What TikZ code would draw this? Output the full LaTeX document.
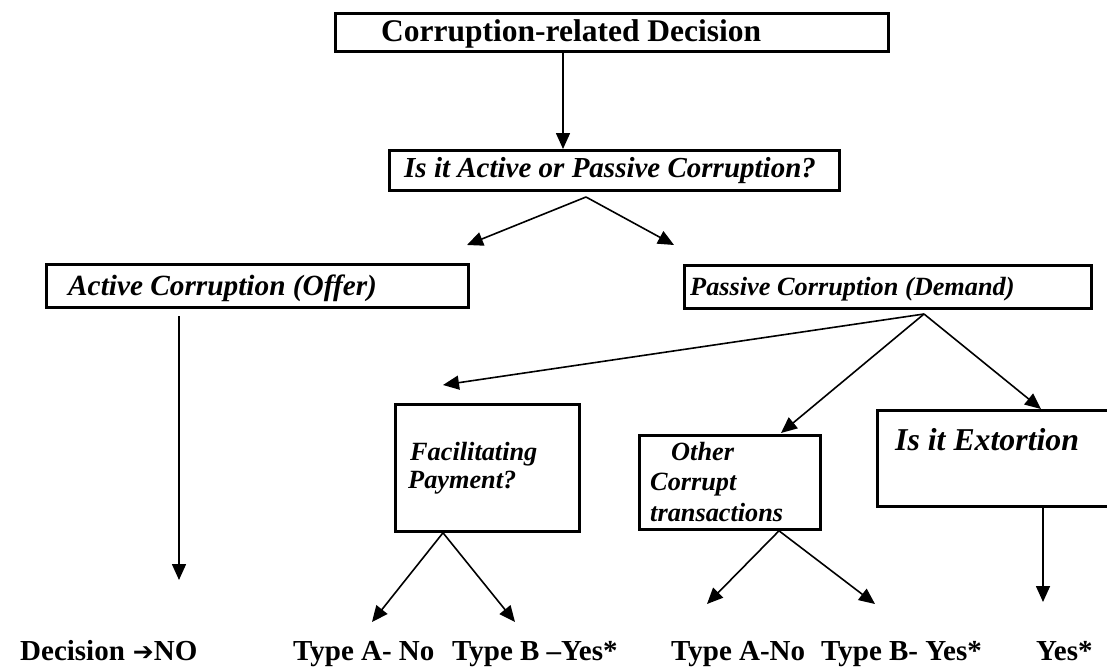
\documentclass[tikz,border=0pt]{standalone}
\usepackage{fontspec}
\setmainfont{Liberation Serif}
\newfontfamily\symfont{DejaVu Sans}
\usetikzlibrary{arrows.meta}
\newcommand\setsz[1]{\fontsize{#1}{#1}\selectfont}

\begin{document}
\begin{tikzpicture}[x=1pt,y=-1pt,
  box/.style={draw, line width=2.8pt, rectangle, inner sep=0pt, anchor=north west},
  lbl/.style={inner sep=0pt, anchor=base west},
  head/.style={font={\bfseries\setsz{31.5}}},
  ask/.style={font={\bfseries\itshape\setsz{29}}},
  side/.style={font={\bfseries\itshape\setsz{29.3}}},
  small/.style={font={\bfseries\itshape\setsz{26.3}}},
  big/.style={font={\bfseries\itshape\setsz{31.8}}},
  result/.style={font={\bfseries\setsz{29}}},
  link/.style={line width=1.6pt, -{Triangle[length=16pt,width=14pt]}},
]
\useasboundingbox[fill=white] (0,0) rectangle (1107,666);

% boxes
\node[box, minimum width=553pt, minimum height=38pt] (top) at (334,12) {};
\node[box, minimum width=450pt, minimum height=40pt] (ask) at (388,149) {};
\node[box, minimum width=422pt, minimum height=43pt] (act) at (45,263) {};
\node[box, minimum width=407pt, minimum height=43pt] (pas) at (683,264) {};
\node[box, minimum width=184pt, minimum height=127pt] (fac) at (394,403) {};
\node[box, minimum width=181pt, minimum height=94pt] (oth) at (638,434) {};
\node[box, minimum width=240pt, minimum height=96pt] (ext) at (876,409) {};

% box texts
\node[lbl, head] (top-t) at (381,42) {Corruption-related Decision};
\node[lbl, ask] (ask-t) at (404,177) {Is it Active or Passive Corruption?};
\node[lbl, side] (act-t) at (68,295) {Active Corruption (Offer)};
\node[lbl, small] (pas-t) at (690,295) {Passive Corruption (Demand)};
\node[lbl, small] (fac-t1) at (410,460) {Facilitating};
\node[lbl, small] (fac-t2) at (408,488) {Payment?};
\node[lbl, small] (oth-t1) at (671,460) {Other};
\node[lbl, small] (oth-t2) at (650,490) {Corrupt};
\node[lbl, small] (oth-t3) at (650,521) {transactions};
\node[lbl, big] (ext-t) at (895,450) {Is it Extortion};

% outcomes
\node[lbl, result] (no) at (20,660) {Decision\hspace{8pt}{\symfont\setsz{25}➔}NO};
\node[lbl, result] (fa) at (293,660) {Type A- No};
\node[lbl, result] (fb) at (452,660) {Type B –Yes*};
\node[lbl, result] (oa) at (671,660) {Type A-No};
\node[lbl, result] (ob) at (821,660) {Type B- Yes*};
\node[lbl, result] (ey) at (1036,660) {Yes*};

% connector end points
\coordinate (ask-in) at (563,149);
\coordinate (ask-fork) at (586,197);
\coordinate (act-in) at (467,245);
\coordinate (pas-in) at (674,245);
\coordinate (act-out) at (179,316);
\coordinate (no-in) at (179,580);
\coordinate (pas-fork) at (924,314);
\coordinate (fac-in) at (443,385);
\coordinate (oth-in) at (781,433);
\coordinate (ext-in) at (1041,409);
\coordinate (fac-fork) at (443,530);
\coordinate (fa-in) at (372,622);
\coordinate (fb-in) at (515,622);
\coordinate (oth-fork) at (779,528);
\coordinate (oa-in) at (707,604);
\coordinate (ob-in) at (875,604);
\coordinate (ext-out) at (1043,505);
\coordinate (ey-in) at (1043,602);

% connectors
\draw[link] (top.south -| ask-in) -- (ask-in);
\draw[link] (ask-fork) -- (act-in);
\draw[link] (ask-fork) -- (pas-in);
\draw[link] (act-out) -- (no-in);
\draw[link] (pas-fork) -- (fac-in);
\draw[link] (pas-fork) -- (oth-in);
\draw[link] (pas-fork) -- (ext-in);
\draw[link] (fac.south -| fac-fork) -- (fa-in);
\draw[link] (fac.south -| fac-fork) -- (fb-in);
\draw[link] (oth.south -| oth-fork) -- (oa-in);
\draw[link] (oth.south -| oth-fork) -- (ob-in);
\draw[link] (ext.south -| ext-out) -- (ey-in);
\end{tikzpicture}
\end{document}
